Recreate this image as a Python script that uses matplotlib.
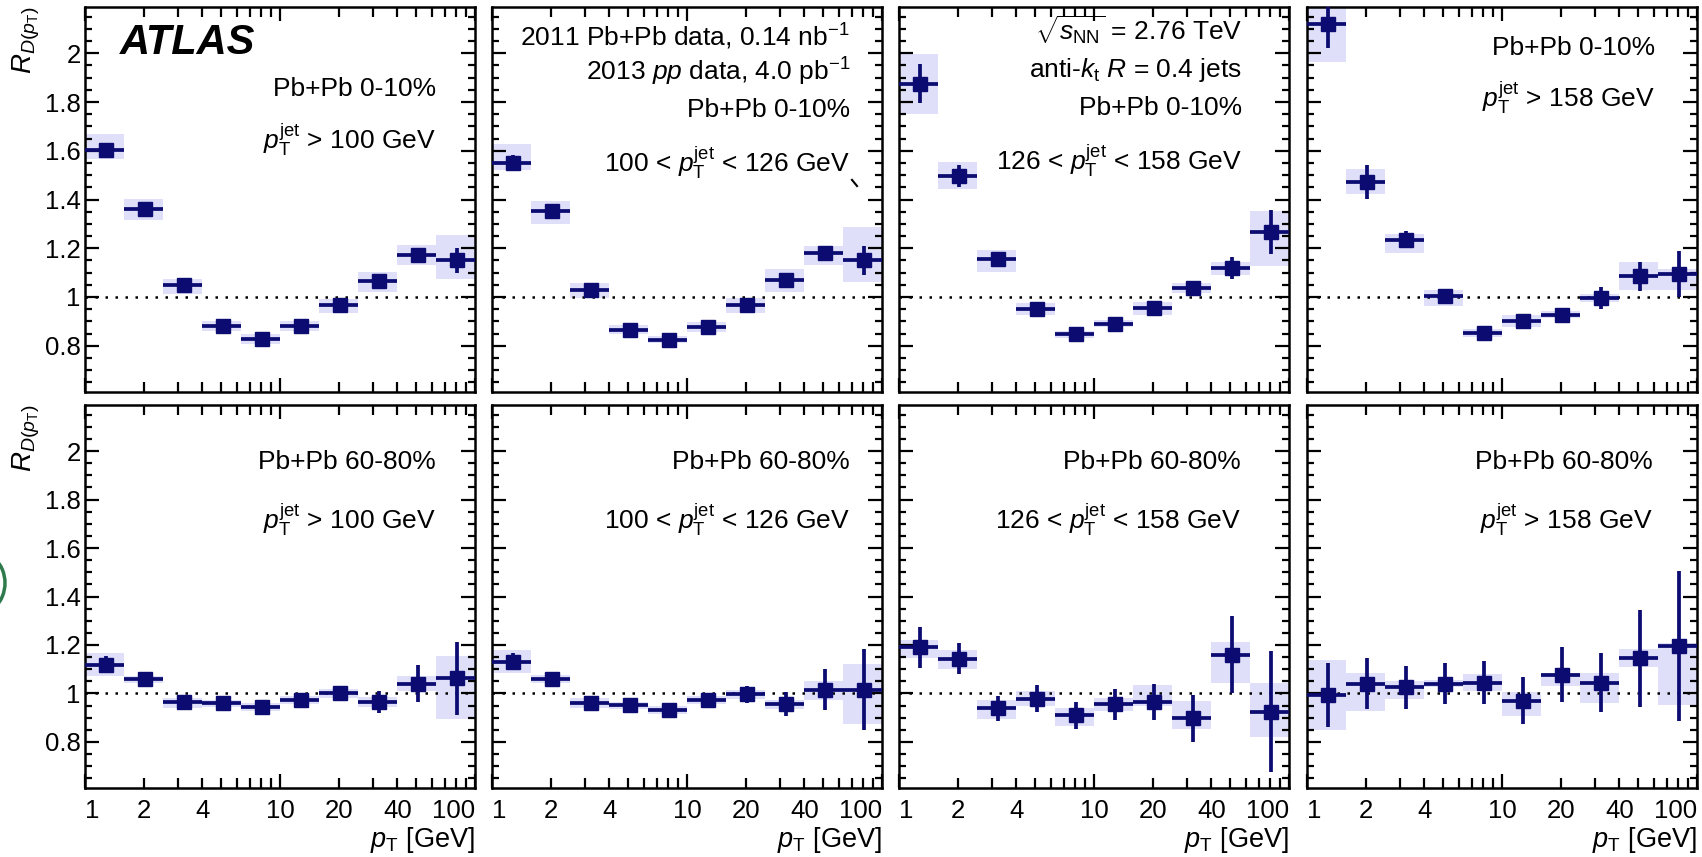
import matplotlib
matplotlib.use('Agg')
import matplotlib.pyplot as plt
import numpy as np
from matplotlib.ticker import MultipleLocator, FuncFormatter
from matplotlib.patches import Arc

plt.rcParams['font.family'] = ['Liberation Sans', 'DejaVu Sans']
plt.rcParams['mathtext.fontset'] = 'custom'
plt.rcParams['mathtext.rm'] = 'Liberation Sans'
plt.rcParams['mathtext.it'] = 'Liberation Sans:italic'
plt.rcParams['mathtext.bf'] = 'Liberation Sans:bold'

# track pT bins [GeV]
bin_lo = [1.0, 1.58, 2.51, 3.98, 6.31, 10.0, 15.8, 25.1, 39.8, 63.1]
bin_hi = [1.58, 2.51, 3.98, 6.31, 10.0, 15.8, 25.1, 39.8, 63.1, 100.0]
pt_mid = [1.28, 2.03, 3.22, 5.1, 8.1, 12.8, 20.3, 32.2, 51.0, 81.0]

# R_D(pT) values, panels: 0-10% (4 jet bins) then 60-80% (4 jet bins)
rd_val = [
    [1.602, 1.36, 1.048, 0.88, 0.826, 0.88, 0.966, 1.066, 1.174, 1.15],
    [1.551, 1.352, 1.027, 0.866, 0.825, 0.877, 0.969, 1.071, 1.182, 1.15],
    [1.875, 1.497, 1.157, 0.949, 0.847, 0.891, 0.956, 1.037, 1.119, 1.267],
    [2.12, 1.472, 1.235, 1.003, 0.852, 0.9, 0.927, 0.996, 1.085, 1.093],
    [1.119, 1.058, 0.966, 0.959, 0.944, 0.973, 1.0, 0.966, 1.041, 1.063],
    [1.13, 1.06, 0.962, 0.951, 0.932, 0.973, 0.996, 0.955, 1.016, 1.016],
    [1.19, 1.144, 0.938, 0.979, 0.91, 0.955, 0.964, 0.897, 1.16, 0.925],
    [0.993, 1.041, 1.025, 1.041, 1.045, 0.97, 1.077, 1.045, 1.145, 1.196],
]
# statistical errors
rd_stat = [
    [0.02, 0.01, 0.01, 0.01, 0.01, 0.01, 0.01, 0.015, 0.015, 0.05],
    [0.03, 0.01, 0.01, 0.01, 0.01, 0.01, 0.01, 0.015, 0.015, 0.06],
    [0.08, 0.045, 0.01, 0.01, 0.01, 0.01, 0.01, 0.01, 0.045, 0.09],
    [0.1, 0.07, 0.035, 0.01, 0.01, 0.01, 0.01, 0.045, 0.06, 0.095],
    [0.035, 0.01, 0.01, 0.01, 0.01, 0.01, 0.03, 0.045, 0.075, 0.15],
    [0.035, 0.01, 0.01, 0.01, 0.01, 0.01, 0.035, 0.05, 0.085, 0.166],
    [0.085, 0.065, 0.05, 0.055, 0.055, 0.063, 0.075, 0.096, 0.16, 0.25],
    [0.132, 0.105, 0.09, 0.086, 0.09, 0.096, 0.114, 0.12, 0.2, 0.31],
]
# systematic uncertainties (up / down)
sys_up = [
    [0.068, 0.041, 0.027, 0.02, 0.02, 0.02, 0.027, 0.037, 0.038, 0.105],
    [0.078, 0.041, 0.03, 0.02, 0.015, 0.02, 0.027, 0.043, 0.027, 0.137],
    [0.124, 0.057, 0.035, 0.025, 0.015, 0.015, 0.023, 0.02, 0.025, 0.085],
    [0.12, 0.055, 0.025, 0.024, 0.015, 0.025, 0.015, 0.015, 0.059, 0.023],
    [0.048, 0.015, 0.016, 0.015, 0.015, 0.015, 0.02, 0.02, 0.033, 0.09],
    [0.048, 0.015, 0.02, 0.015, 0.015, 0.015, 0.02, 0.02, 0.035, 0.107],
    [0.032, 0.037, 0.037, 0.031, 0.031, 0.027, 0.07, 0.071, 0.052, 0.119],
    [0.145, 0.045, 0.027, 0.015, 0.034, 0.037, 0.009, 0.041, 0.04, 0.014],
]
sys_dn = [
    [0.035, 0.045, 0.034, 0.02, 0.02, 0.02, 0.03, 0.045, 0.044, 0.075],
    [0.031, 0.054, 0.031, 0.02, 0.015, 0.02, 0.033, 0.05, 0.049, 0.088],
    [0.123, 0.052, 0.054, 0.025, 0.015, 0.015, 0.031, 0.02, 0.03, 0.14],
    [0.156, 0.048, 0.055, 0.041, 0.015, 0.025, 0.015, 0.015, 0.058, 0.063],
    [0.048, 0.015, 0.025, 0.015, 0.015, 0.015, 0.02, 0.02, 0.031, 0.167],
    [0.045, 0.015, 0.02, 0.015, 0.015, 0.015, 0.02, 0.02, 0.041, 0.141],
    [0.043, 0.045, 0.045, 0.031, 0.044, 0.028, 0.016, 0.045, 0.116, 0.104],
    [0.143, 0.115, 0.046, 0.015, 0.035, 0.062, 0.047, 0.085, 0.035, 0.244],
]

centrality = ['Pb+Pb 0-10%', 'Pb+Pb 60-80%']
jet_bins = [r'$p_{\mathrm{T}}^{\mathrm{jet}}$ > 100 GeV',
            r'100 < $p_{\mathrm{T}}^{\mathrm{jet}}$ < 126 GeV',
            r'126 < $p_{\mathrm{T}}^{\mathrm{jet}}$ < 158 GeV',
            r'$p_{\mathrm{T}}^{\mathrm{jet}}$ > 158 GeV']

navy = '#0b0b72'
box_col = '#dfdff9'

W, H = 1702, 857
fig = plt.figure(figsize=(W / 100, H / 100), dpi=100)

col_left = [85, 492, 899, 1307]
row_top = [7, 405]
row_bot = [392, 788]
pw = 390

lo = np.array(bin_lo)
hi = np.array(bin_hi)
mid = np.array(pt_mid)

fs = 19          # in-panel text
tfs = 18.5       # tick labels

# right edge of the 60-80% labels, axes fraction
txt_x_bottom = [0.900, 0.918, 0.877, 0.887]

axes = []
for r in range(2):
    for c in range(4):
        k = r * 4 + c
        ax = fig.add_axes([col_left[c] / W, 1 - row_bot[r] / H, pw / W,
                           (row_bot[r] - row_top[r]) / H])
        axes.append(ax)
        v = np.array(rd_val[k])
        ax.bar(lo, np.array(sys_up[k]) + np.array(sys_dn[k]),
               bottom=v - np.array(sys_dn[k]), width=hi - lo, align='edge',
               color=box_col, lw=0, zorder=1)
        ax.axhline(1.0, color='black', ls=(0, (1, 3)), lw=1.8, zorder=2)
        ax.errorbar(mid, v, xerr=[mid - lo, hi - mid], yerr=rd_stat[k],
                    fmt='s', color=navy, ms=9.5, lw=2.7, capsize=0, zorder=3)
        ax.set_xscale('log')
        ax.set_xlim(1, 100)
        ax.set_ylim(0.61, 2.19)

        for s in ax.spines.values():
            s.set_linewidth(1.8)
        ax.yaxis.set_major_locator(MultipleLocator(0.2))
        ax.yaxis.set_minor_locator(MultipleLocator(0.05))
        ax.set_xticks([1, 10, 100])
        minor = [m * d for d in (1, 10) for m in range(2, 10)]
        ax.set_xticks(minor, minor=True)
        ax.tick_params(which='both', direction='in', top=True, right=True,
                       labelsize=tfs, width=1.6, pad=8)
        ax.tick_params(which='major', length=10)
        ax.tick_params(which='minor', length=5)
        ax.tick_params(axis='x', which='minor', length=7)

        if c == 0:
            ax.yaxis.set_major_formatter(FuncFormatter(lambda y, p: f'{round(y, 2):g}'))
            ax.tick_params(axis='y', pad=3)
            ax.text(-0.15, 1.0, r'$R_{D(p_{\mathrm{T}})}$', transform=ax.transAxes,
                    rotation=90, ha='center', va='top', fontsize=20)
        else:
            ax.set_yticklabels([])

        if r == 1:
            ax.set_xticklabels(['1', '10', '100'])
            ax.set_xticklabels(['2' if m == 2 else '4' if m == 4 else '20' if m == 20
                                else '40' if m == 40 else '' for m in minor], minor=True)
            labs = ax.get_xticklabels()
            labs[0].set_ha('left')
            labs[2].set_ha('right')
            ax.text(1.0, -0.135, r'$p_{\mathrm{T}}$ [GeV]', transform=ax.transAxes,
                    ha='right', va='center', fontsize=19.5)
        else:
            ax.set_xticklabels([])
            ax.set_xticklabels([], minor=True)

tx = axes[0].transAxes
axes[0].text(0.09, 0.906, 'ATLAS', transform=tx, fontsize=30, fontweight='bold',
             fontstyle='italic', ha='left', va='center')
axes[0].text(0.900, 0.787, centrality[0], transform=tx, fontsize=fs, ha='right', va='center')
axes[0].text(0.900, 0.655, jet_bins[0], transform=tx, fontsize=fs, ha='right', va='center')

tx = axes[1].transAxes
axes[1].text(0.918, 0.922, r'2011 Pb+Pb data, 0.14 nb$^{-1}$', transform=tx,
             fontsize=fs, ha='right', va='center')
axes[1].text(0.918, 0.831, r'2013 $pp$ data, 4.0 pb$^{-1}$', transform=tx,
             fontsize=fs, ha='right', va='center')
axes[1].text(0.918, 0.732, centrality[0], transform=tx, fontsize=fs, ha='right', va='center')
axes[1].text(0.918, 0.596, jet_bins[1], transform=tx, fontsize=fs, ha='right', va='center')
axes[1].plot([0.923, 0.936], [0.551, 0.535], transform=tx, color='black', lw=1.5)

tx = axes[2].transAxes
axes[2].text(0.879, 0.94, r'$\sqrt{s_{\mathrm{NN}}}$ = 2.76 TeV', transform=tx,
             fontsize=fs, ha='right', va='center')
axes[2].text(0.879, 0.836, r'anti-$k_{\mathrm{t}}$ $R$ = 0.4 jets', transform=tx,
             fontsize=fs, ha='right', va='center')
axes[2].text(0.879, 0.738, centrality[0], transform=tx, fontsize=fs, ha='right', va='center')
axes[2].text(0.879, 0.601, jet_bins[2], transform=tx, fontsize=fs, ha='right', va='center')

tx = axes[3].transAxes
axes[3].text(0.892, 0.894, centrality[0], transform=tx, fontsize=fs, ha='right', va='center')
axes[3].text(0.892, 0.764, jet_bins[3], transform=tx, fontsize=fs, ha='right', va='center')

for c in range(4):
    ax = axes[4 + c]
    ax.text(txt_x_bottom[c], 0.851, centrality[1], transform=ax.transAxes,
            fontsize=fs, ha='right', va='center')
    ax.text(txt_x_bottom[c], 0.70, jet_bins[c], transform=ax.transAxes,
            fontsize=fs, ha='right', va='center')

# stray green arc at the left edge of the screenshot
fig.add_artist(Arc((-30 / W, 1 - 583 / H), 70 / W, 70 / H, transform=fig.transFigure,
                   color='#2f7a4c', lw=2.5))

fig.savefig('out.png', dpi=100)
